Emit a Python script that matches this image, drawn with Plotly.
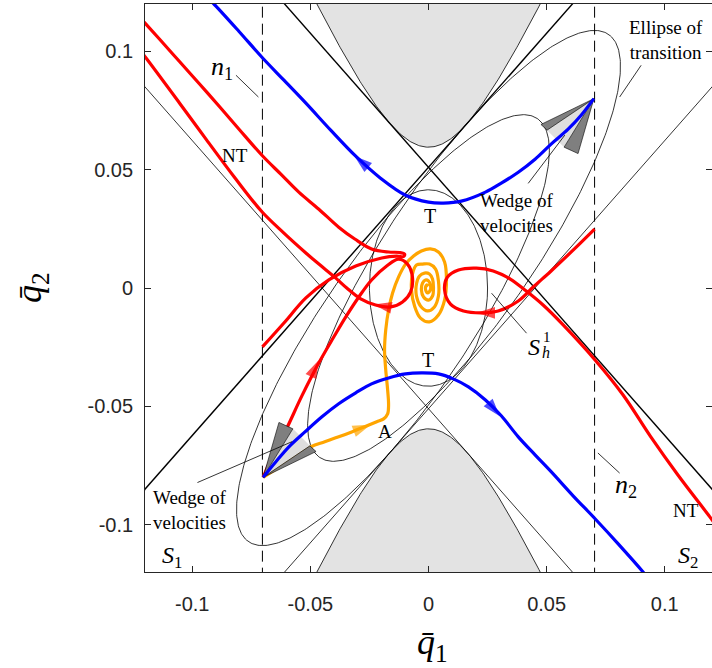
import numpy as np
import plotly.graph_objects as go

# ---------------- axes ----------------
x_range = [-0.12, 0.12]
y_range = [-0.12, 0.12]
tick_vals = [-0.1, -0.05, 0, 0.05, 0.1]
tick_text = ["-0.1", "-0.05", "0", "0.05", "0.1"]

# ---------------- geometry ----------------
hyp_a = 0.0595          # vertex of forbidden-region boundary (y)
hyp_b = 0.027           # width parameter
line_m = 1.133          # slope of the four tangent lines
line_c = 0.051          # intercept of the four tangent lines
lyap_p = 0.025          # central ellipse semi-axis (x)
lyap_q = 0.0415         # central ellipse semi-axis (y)
tr_center = [0.01505, 0.0178]   # ellipse of transition (upper right)
tr_u = [0.00115, 0.0516]        # conjugate half-diameters
tr_v = [0.0662, 0.0750]
n_lines_x = [-0.0703, 0.0703]

# wedges of velocities: apex and four rays (outer dark, inner dark, inner dark, outer dark)
wedge1_x = [-0.07, -0.0633, -0.0574, -0.0502, -0.0476]
wedge1_y = [-0.08, -0.0568, -0.0595, -0.0667, -0.0691]
wedge2_x = [0.07, 0.0633, 0.0574, 0.0502, 0.0476]
wedge2_y = [0.08, 0.0568, 0.0595, 0.0667, 0.0691]

# ---------------- trajectories ----------------
blue_top_x = [-0.0928, -0.0911, -0.0802, -0.0705, -0.0612, -0.0519, -0.0414, -0.0308, -0.0203, -0.0097,
              0.0, 0.0063, 0.0139, 0.0241, 0.0308, 0.0380, 0.0451, 0.0519, 0.0591, 0.0646, 0.0700]
blue_top_y = [0.1219, 0.1203, 0.1084, 0.0975, 0.0878, 0.0781, 0.0667, 0.0557, 0.0464, 0.0392,
              0.0363, 0.0359, 0.0367, 0.0405, 0.0443, 0.0489, 0.0544, 0.0608, 0.0671, 0.0730, 0.0800]
blue_bot_x = [-0.0700, -0.0646, -0.0591, -0.0523, -0.0451, -0.0380, -0.0308, -0.0241, -0.0169, -0.0097,
              -0.0030, 0.0042, 0.0105, 0.0169, 0.0241, 0.0308, 0.0380, 0.0451, 0.0519, 0.0612, 0.0705,
              0.0802, 0.0911, 0.0928]
blue_bot_y = [-0.0800, -0.0734, -0.0671, -0.0608, -0.0544, -0.0489, -0.0443, -0.0405, -0.0380, -0.0363,
              -0.0359, -0.0363, -0.0384, -0.0418, -0.0473, -0.0540, -0.0629, -0.0705, -0.0776, -0.0878,
              -0.0975, -0.1080, -0.1203, -0.1224]

red_wedge_x = [-0.0700, -0.0654, -0.0603, -0.0536, -0.0464, -0.0401, -0.0350, -0.0295, -0.0241, -0.0177,
               -0.0127, -0.0089, -0.0068, -0.0076, -0.0110, -0.0160, -0.0224, -0.0287, -0.0346, -0.0397,
               -0.0464, -0.0519, -0.0612, -0.0705, -0.0823, -0.0941, -0.1055, -0.1198, -0.1224]
red_wedge_y = [-0.0800, -0.0696, -0.0599, -0.0456, -0.0316, -0.0207, -0.0122, -0.0038, 0.0034, 0.0093,
               0.0122, 0.0101, 0.0046, -0.0017, -0.0059, -0.0080, -0.0072, -0.0046, 0.0000, 0.0046,
               0.0101, 0.0148, 0.0232, 0.0322, 0.0470, 0.0628, 0.0783, 0.0975, 0.1008]

red_n1_x = [-0.0703, -0.0612, -0.0519, -0.0422, -0.0308, -0.0198, -0.0135, -0.0105, -0.0101, -0.0122,
            -0.0169, -0.0241, -0.0312, -0.0380, -0.0464, -0.0549, -0.0624, -0.0705, -0.0802, -0.0886,
            -0.0970, -0.1055, -0.1139, -0.1198, -0.1224]
red_n1_y = [-0.0249, -0.0148, -0.0042, 0.0034, 0.0093, 0.0127, 0.0135, 0.0133, 0.0143, 0.0150,
            0.0152, 0.0165, 0.0207, 0.0257, 0.0333, 0.0405, 0.0480, 0.0561, 0.0671, 0.0768,
            0.0863, 0.0958, 0.1052, 0.1117, 0.1146]

red_n2_x = [0.0703, 0.0612, 0.0519, 0.0443, 0.0380, 0.0295, 0.0224, 0.0148, 0.0093, 0.0068, 0.0080,
            0.0127, 0.0203, 0.0274, 0.0346, 0.0414, 0.0485, 0.0570, 0.0705, 0.0823, 0.0941, 0.1055,
            0.1190, 0.1215]
red_n2_y = [0.0249, 0.0160, 0.0072, 0.0004, -0.0055, -0.0097, -0.0105, -0.0097, -0.0068, -0.0008, 0.0046,
            0.0076, 0.0084, 0.0072, 0.0038, -0.0013, -0.0072, -0.0156, -0.0304, -0.0451, -0.0629, -0.0789,
            -0.0966, -0.1000]

orange_x = [-0.0700, -0.0591, -0.0498, -0.0439, -0.0380, -0.0325, -0.0270, -0.0219, -0.0190, -0.0173,
            -0.0169, -0.0173, -0.0181, -0.0186, -0.0181, -0.0169, -0.0152, -0.0127, -0.0097, -0.0063,
            -0.0030, 0.0008, 0.0042, 0.0068, 0.0076, 0.0068, 0.0042, 0.0004, -0.0034, -0.0059,
            -0.0072, -0.0068, -0.0051, -0.0025, 0.0004, 0.0030, 0.0042, 0.0042, 0.0025, -0.0004,
            -0.0034, -0.0051, -0.0051, -0.0038, -0.0017, 0.0004, 0.0017, 0.0021, 0.0017, 0.0000,
            -0.0021, -0.0030, -0.0025, -0.0013, 0.0000, 0.0008, 0.0008, -0.0004, -0.0013, -0.0008, 0.0000]
orange_y = [-0.0800, -0.0730, -0.0671, -0.0650, -0.0629, -0.0608, -0.0586, -0.0565, -0.0553, -0.0532,
            -0.0494, -0.0430, -0.0346, -0.0262, -0.0177, -0.0093, -0.0021, 0.0046, 0.0101, 0.0135,
            0.0156, 0.0165, 0.0152, 0.0110, 0.0034, -0.0051, -0.0114, -0.0143, -0.0127, -0.0076,
            -0.0008, 0.0059, 0.0097, 0.0101, 0.0101, 0.0080, 0.0030, -0.0034, -0.0080, -0.0097,
            -0.0076, -0.0034, 0.0017, 0.0051, 0.0063, 0.0059, 0.0038, 0.0000, -0.0034, -0.0051,
            -0.0038, -0.0008, 0.0021, 0.0034, 0.0030, 0.0013, -0.0008, -0.0021, -0.0004, 0.0013, 0.0008]

# arrowheads: (from, to) pairs along the curves
arrows = [
    ("#0000ff", [-0.0256, -0.0314], [0.0510, 0.0558]),
    ("#0000ff", [0.0262, 0.0302], [-0.0495, -0.0542]),
    ("#ff0000", [-0.0494, -0.0465], [-0.0366, -0.0305]),
    ("#ff0000", [-0.0177, -0.0232], [-0.0080, -0.0070]),
    ("#ff0000", [0.0260, 0.0205], [-0.0105, -0.0105]),
    ("#ffa500", [-0.0295, -0.0245], [-0.0597, -0.0578]),
]

fig = go.Figure()

def add_line(x, y, color="black", width=0.8, dash=None, shape="linear", **kw):
    fig.add_trace(go.Scatter(x=x, y=y, mode="lines", hoverinfo="skip", showlegend=False,
                             line=dict(color=color, width=width, dash=dash, shape=shape), **kw))

# forbidden regions
xs = np.linspace(-0.07, 0.07, 301)
yh = hyp_a * np.sqrt(1 + (xs / hyp_b) ** 2)
for sgn in (1, -1):
    px = list(xs) + [0.07, -0.07]
    py = list(sgn * yh) + [sgn * 0.2, sgn * 0.2]
    fig.add_trace(go.Scatter(x=px, y=py, mode="lines", fill="toself", fillcolor="#e3e3e3",
                             line=dict(color="black", width=0.8), hoverinfo="skip", showlegend=False))

# tangent lines
lx = np.array([-0.14, 0.14])
add_line(lx, -line_c + line_m * lx, width=0.8)
add_line(lx, -line_c - line_m * lx, width=0.8)
add_line(lx, line_c - line_m * lx, width=1.4)
add_line(lx, line_c + line_m * lx, width=1.4)

# central ellipse
t = np.linspace(0, 2 * np.pi, 400)
add_line(lyap_p * np.cos(t), lyap_q * np.sin(t))

# ellipses of transition
for s in (1, -1):
    ex = s * (tr_center[0] + tr_u[0] * np.cos(t) + tr_v[0] * np.sin(t))
    ey = s * (tr_center[1] + tr_u[1] * np.cos(t) + tr_v[1] * np.sin(t))
    add_line(ex, ey)

# n1, n2 dashed lines
for xv in n_lines_x:
    add_line([xv, xv], [-0.13, 0.13], width=1.0, dash="11px,6px")

# orange and red trajectories
add_line(orange_x, orange_y, color="#ffa500", width=3.2, shape="spline")
add_line(red_n1_x, red_n1_y, color="#ff0000", width=3.2, shape="spline")
add_line(red_wedge_x, red_wedge_y, color="#ff0000", width=3.2, shape="spline")
add_line(red_n2_x, red_n2_y, color="#ff0000", width=3.2, shape="spline")

# wedges
for wx, wy in ((wedge1_x, wedge1_y), (wedge2_x, wedge2_y)):
    fig.add_trace(go.Scatter(x=[wx[0], wx[2], wx[3], wx[0]], y=[wy[0], wy[2], wy[3], wy[0]],
                             mode="lines", fill="toself", fillcolor="#dedede",
                             line=dict(color="#dedede", width=0), hoverinfo="skip", showlegend=False))
    for i, j in ((1, 2), (3, 4)):
        fig.add_trace(go.Scatter(x=[wx[0], wx[i], wx[j], wx[0]], y=[wy[0], wy[i], wy[j], wy[0]],
                                 mode="lines", fill="toself", fillcolor="#7f7f7f",
                                 line=dict(color="black", width=0.6), hoverinfo="skip", showlegend=False))

# blue trajectories
add_line(blue_top_x, blue_top_y, color="#0000ff", width=3.2, shape="spline")
add_line(blue_bot_x, blue_bot_y, color="#0000ff", width=3.2, shape="spline")

# arrowheads
for col, ax, ay in arrows:
    fig.add_trace(go.Scatter(x=ax, y=ay, mode="markers", hoverinfo="skip", showlegend=False,
                             marker=dict(symbol="arrow", size=[0, 19], angleref="previous",
                                         color=col, line=dict(width=0))))

# label pointer lines
pointers = [
    ([-0.0815, -0.0720], [0.0899, 0.0807]),
    ([0.0717, 0.0809], [-0.0697, -0.0782]),
    ([0.0267, 0.0415], [-0.0022, -0.0191]),
    ([0.0900, 0.0809], [0.0941, 0.0807]),
    ([0.0422, 0.0577], [0.0442, 0.0646]),
    ([-0.0978, -0.0577], [-0.0822, -0.0649]),
]
for px_, py_ in pointers:
    add_line(px_, py_, width=0.8)

serif = "Liberation Serif"
ann = []
def label(x, y, text, size=19):
    ann.append(dict(x=x, y=y, xref="x", yref="y", text=text, showarrow=False,
                    font=dict(family=serif, size=size, color="black"),
                    xanchor="center", yanchor="middle"))

label(-0.0873, 0.0928, "<i>n</i><sub>1</sub>", size=26)
label(0.0835, -0.0835, "<i>n</i><sub>2</sub>", size=26)
label(-0.0819, 0.0561, "NT", size=19)
label(0.1089, -0.0941, "NT", size=19)
label(0.0005, 0.0306, "T", size=20)
label(-0.0002, -0.0306, "T", size=20)
label(-0.0186, -0.0608, "A", size=19)
label(0.0376, 0.0319, "Wedge of<br>velocities", size=19)
label(-0.1008, -0.0937, "Wedge of<br>velocities", size=19)
label(0.1004, 0.1046, "Ellipse of<br>transition", size=19)
label(-0.1085, -0.1135, "<i>S</i><sub>1</sub>", size=24)
label(0.1100, -0.1135, "<i>S</i><sub>2</sub>", size=24)
label(0.0447, -0.0249, "<i>S</i>", size=24)
label(0.0502, -0.0207, "1", size=15)
label(0.0498, -0.0272, "<i>h</i>", size=16)

# axis titles
ann.append(dict(x=(432 - 145) / 567, y=-(644 - 572) / 568, xref="paper", yref="paper",
                text="<i>q\u0304</i><sub>1</sub>", showarrow=False,
                font=dict(family=serif, size=36, color="black"), xanchor="center", yanchor="middle"))
ann.append(dict(x=(31 - 145) / 567, y=0.5, xref="paper", yref="paper",
                text="<i>q\u0304</i><sub>2</sub>", showarrow=False, textangle=-90,
                font=dict(family=serif, size=36, color="black"), xanchor="center", yanchor="middle"))

axis_common = dict(showgrid=False, zeroline=False, showline=True, mirror="ticks",
                   linecolor="#262626", linewidth=0.8, ticks="inside", ticklen=6,
                   tickwidth=0.8, tickcolor="#262626", tickvals=tick_vals, ticktext=tick_text,
                   tickfont=dict(family="Liberation Sans", size=20, color="#262626"))

fig.update_layout(
    width=712, height=668,
    margin=dict(l=145, r=0, t=4, b=96, pad=0, autoexpand=False),
    paper_bgcolor="white", plot_bgcolor="white",
    xaxis=dict(range=x_range, ticklabelstandoff=14, **axis_common),
    yaxis=dict(range=y_range, ticklabelstandoff=7, **axis_common),
    annotations=ann,
    showlegend=False,
)

fig.write_html("out.html", config={"displayModeBar": False},
               post_script="document.body.style.margin='0px';")
